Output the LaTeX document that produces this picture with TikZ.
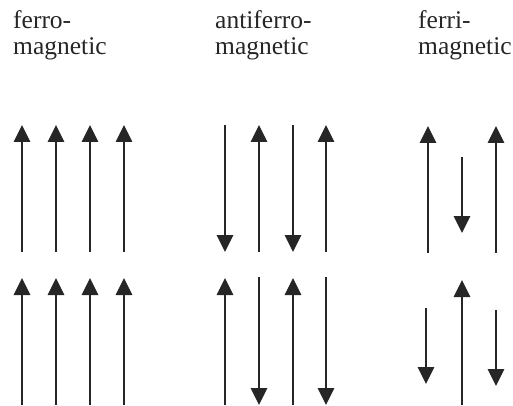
\documentclass[tikz,border=0pt]{standalone}
\usepackage{fontspec}
\setmainfont{Liberation Serif}
\usetikzlibrary{arrows.meta}
\begin{document}
\begin{tikzpicture}[x=1pt,y=-1pt,
  spin/.style={line width=1.4pt, draw=black!85, -{Triangle[width=16.5pt,length=17pt]}},
  lbl/.style={anchor=base west, inner sep=0pt, align=left, font=\fontsize{25.5}{26}\selectfont, text=black!85}]
\useasboundingbox (0,0) rectangle (513,406);
% labels
\node[lbl] (tf) at (13,55) {ferro-\\magnetic};
\node[lbl] (ta) at (215,55) {antiferro-\\magnetic};
\node[lbl] (ti) at (418,55) {ferri-\\magnetic};
% ferromagnetic
\foreach \i/\x in {1/22,2/56,3/90,4/124}{
  \coordinate (ft\i a) at (\x,252); \coordinate (ft\i b) at (\x,125);
  \draw[spin] (ft\i a) -- (ft\i b);
  \coordinate (fb\i a) at (\x,405); \coordinate (fb\i b) at (\x,278);
  \draw[spin] (fb\i a) -- (fb\i b);
}
% antiferromagnetic top
\foreach \i/\x/\ya/\yb in {1/225/125/252,2/259/252/125,3/293/125/252,4/326/252/125}{
  \coordinate (at\i a) at (\x,\ya); \coordinate (at\i b) at (\x,\yb);
  \draw[spin] (at\i a) -- (at\i b);
}
% antiferromagnetic bottom
\foreach \i/\x/\ya/\yb in {1/225/405/278,2/259/277/405,3/293/405/278,4/326/277/405}{
  \coordinate (ab\i a) at (\x,\ya); \coordinate (ab\i b) at (\x,\yb);
  \draw[spin] (ab\i a) -- (ab\i b);
}
% ferrimagnetic top
\foreach \i/\x/\ya/\yb in {1/428/253/126,2/462/157/233,3/496/253/126}{
  \coordinate (it\i a) at (\x,\ya); \coordinate (it\i b) at (\x,\yb);
  \draw[spin] (it\i a) -- (it\i b);
}
% ferrimagnetic bottom
\foreach \i/\x/\ya/\yb in {1/426/308/384,2/462/405/280,3/496/310/386}{
  \coordinate (ib\i a) at (\x,\ya); \coordinate (ib\i b) at (\x,\yb);
  \draw[spin] (ib\i a) -- (ib\i b);
}
\end{tikzpicture}
\end{document}
